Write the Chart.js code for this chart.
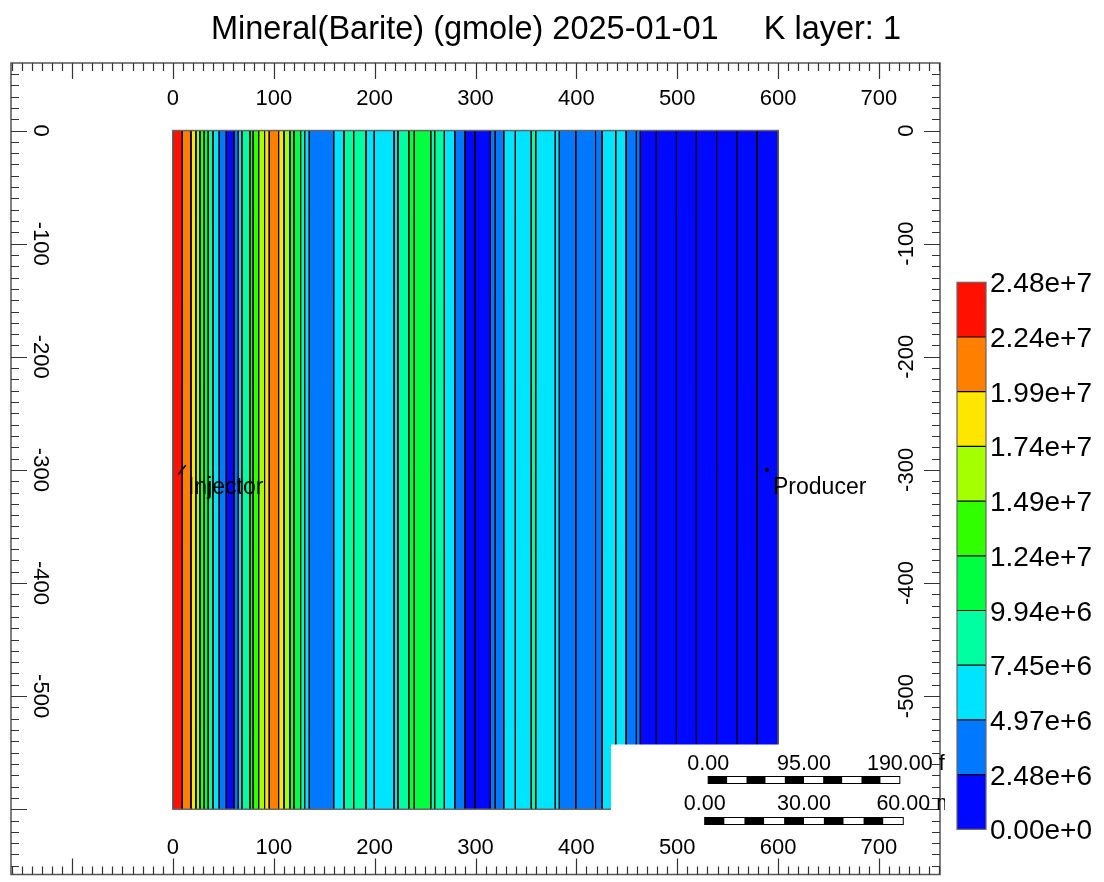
<!doctype html>
<html>
<head>
<meta charset="UTF-8">
<title>Mineral(Barite)</title>
<script src="https://cdn.jsdelivr.net/npm/chart.js@4.4.1/dist/chart.umd.min.js"></script>
<style>
  body { margin: 0; background: #fff; }
</style>
</head>
<body>
<canvas id="map" width="1104" height="882"></canvas>
<script>
// band edges along I direction (ft) and the colour class of each band
const cellEdges = [0, 9.2, 17.9, 22.8, 26.8, 31, 35, 39.7, 45.9, 52.9, 60.5, 64.8, 68.4, 76.4, 79.6, 85,
  90.9, 95.5, 104.8, 110.1, 116, 120, 126.6, 130.6, 135.2, 159.4, 169.6, 179.2, 191.4, 199.6, 219.2,
  223.1, 233.8, 239.3, 255.6, 259.5, 269.1, 279.4, 289.6, 299.5, 314.7, 319.6, 328, 339.5, 355.3,
  359.7, 379.1, 383.1, 399.4, 419, 425.5, 439, 449.3, 459.5, 463.4, 479.3, 499.2, 519, 539, 558.9, 579, 600];
const bandClass = [9, 8, 7, 6, 5, 4, 3, 2, 1, 0, 1, 2, 3, 4, 5, 6, 7, 8, 7, 6, 5, 4, 3, 2, 1, 2, 3, 3, 2, 2,
  2, 3, 4, 4, 3, 3, 2, 1, 0, 0, 1, 1, 2, 2, 3, 2, 2, 1, 1, 1, 2, 2, 1, 1, 0, 0, 0, 0, 0, 0, 0];
const gridTop = 0;
const gridBottom = -600;

// colour classes, lowest first
const classColors = ['#0008ff', '#0078ff', '#00e5ff', '#00ffa0', '#00ff40', '#30ff00', '#a4ff00', '#ffe600', '#ff7f00', '#ff1000'];
const classLabels = ['0.00e+0', '2.48e+6', '4.97e+6', '7.45e+6', '9.94e+6', '1.24e+7', '1.49e+7', '1.74e+7', '1.99e+7', '2.24e+7', '2.48e+7'];

const xTicks = [0, 100, 200, 300, 400, 500, 600, 700];
const yTicks = [0, -100, -200, -300, -400, -500];

const wellNames = ['Injector', 'Producer'];
const wellX = [9, 589];
const wellY = [-300, -300];

const titleText = 'Mineral(Barite) (gmole) 2025-01-01     K layer: 1';
const scaleFeet = ['0.00', '95.00', '190.00'];
const scaleMetres = ['0.00', '30.00', '60.00'];

const FONT = '"Liberation Sans", Arial, sans-serif';

var datasets = [];
for (var i = 0; i < bandClass.length; i++) {
  datasets.push({
    data: [
      {x: cellEdges[i], y: gridBottom}, {x: cellEdges[i], y: gridTop},
      {x: cellEdges[i + 1], y: gridTop}, {x: cellEdges[i + 1], y: gridBottom}
    ],
    showLine: true,
    fill: 'shape',
    backgroundColor: classColors[bandClass[i]],
    borderColor: '#000',
    borderWidth: 1,
    pointRadius: 0,
    tension: 0,
    order: 1
  });
}
// wells, drawn on top of the bands
datasets.push({
  data: wellX.map((x, k) => ({x: x, y: wellY[k]})),
  showLine: false,
  order: 0,
  pointStyle: ['line', 'circle'],
  rotation: [-50, 0],
  pointRadius: [6, 1.6],
  borderWidth: [1.5, 1],
  borderColor: '#000',
  backgroundColor: '#000'
});

function tickSide(ctx, from, to, step, place) {
  for (var v = Math.ceil(from / step) * step; v <= to; v += step) {
    var major = Math.round(v) % 100 === 0;
    place(v, major ? 16 : 8);
  }
}

const decor = {
  id: 'decor',
  afterDatasetsDraw(chart) {
    const ctx = chart.ctx;
    const a = chart.chartArea;
    const x = chart.scales.x, y = chart.scales.y;
    ctx.save();

    // outline of grid
    ctx.strokeStyle = '#666';
    ctx.lineWidth = 1.5;
    var gx0 = x.getPixelForValue(cellEdges[0]), gx1 = x.getPixelForValue(cellEdges[cellEdges.length - 1]);
    var gy0 = y.getPixelForValue(gridTop), gy1 = y.getPixelForValue(gridBottom);
    ctx.strokeRect(gx0, gy0, gx1 - gx0, gy1 - gy0);

    // wells
    ctx.fillStyle = '#000';
    ctx.font = '23px ' + FONT;
    ctx.textAlign = 'left';
    ctx.textBaseline = 'alphabetic';
    for (var k = 0; k < wellNames.length; k++) {
      ctx.fillText(wellNames[k], x.getPixelForValue(wellX[k]) + 6, y.getPixelForValue(wellY[k]) + 24);
    }

    // white panel for the scale bar
    var pl = a.right - 329, pt = a.bottom - 130;
    ctx.fillStyle = '#fff';
    ctx.fillRect(pl, pt, a.right + 6 - pl, a.bottom + 2 - pt);

    // frame and ticks
    ctx.strokeStyle = '#555';
    ctx.lineWidth = 1.5;
    ctx.strokeRect(a.left, a.top, a.right - a.left, a.bottom - a.top);
    ctx.lineWidth = 1.2;
    ctx.strokeStyle = '#333';
    ctx.beginPath();
    tickSide(ctx, x.min, x.max, 10, function (v, len) {
      var px = Math.round(x.getPixelForValue(v)) + 0.5;
      ctx.moveTo(px, a.top); ctx.lineTo(px, a.top + len);
      ctx.moveTo(px, a.bottom); ctx.lineTo(px, a.bottom - len);
    });
    tickSide(ctx, y.min, y.max, 10, function (v, len) {
      var py = Math.round(y.getPixelForValue(v)) + 0.5;
      ctx.moveTo(a.left, py); ctx.lineTo(a.left + len, py);
      ctx.moveTo(a.right, py); ctx.lineTo(a.right - len, py);
    });
    ctx.stroke();

    // tick labels
    ctx.fillStyle = '#000';
    ctx.font = '22px ' + FONT;
    ctx.textAlign = 'center';
    xTicks.forEach(function (v) {
      var px = x.getPixelForValue(v);
      ctx.fillText(String(v), px, a.top + 42);
      ctx.fillText(String(v), px, a.bottom - 21);
    });
    yTicks.forEach(function (v) {
      var py = y.getPixelForValue(v);
      ctx.save();
      ctx.translate(a.left + 23, py);
      ctx.rotate(Math.PI / 2);
      ctx.fillText(String(v), 0, 0);
      ctx.restore();
      ctx.save();
      ctx.translate(a.right - 27, py);
      ctx.rotate(-Math.PI / 2);
      ctx.fillText(String(v), 0, 0);
      ctx.restore();
    });

    // scale bars (lengths through the x scale)
    ctx.save();
    ctx.beginPath();
    ctx.rect(pl, pt, a.right + 5 - pl, a.bottom - pt);
    ctx.clip();
    var mid = a.right - 136;
    var rows = [
      {labels: scaleFeet, unit: 'feet', len: 190, base: pt + 25, bar: pt + 32},
      {labels: scaleMetres, unit: 'm', len: 60 * 3.28084, base: pt + 65, bar: pt + 73}
    ];
    ctx.font = '21.5px ' + FONT;
    rows.forEach(function (r) {
      var w = x.getPixelForValue(r.len) - x.getPixelForValue(0);
      var b0 = mid - w / 2;
      for (var s = 0; s < 10; s++) {
        ctx.fillStyle = s % 2 === 0 ? '#000' : '#fff';
        ctx.fillRect(b0 + s * w / 10, r.bar, w / 10, 7);
      }
      ctx.strokeStyle = '#000';
      ctx.lineWidth = 1;
      ctx.strokeRect(b0, r.bar, w, 7);
      ctx.fillStyle = '#000';
      ctx.textAlign = 'center';
      ctx.fillText(r.labels[0], b0, r.base);
      ctx.fillText(r.labels[1], b0 + w / 2, r.base);
      ctx.fillText(r.labels[2], b0 + w, r.base);
      var tw = ctx.measureText(r.labels[2]).width;
      ctx.textAlign = 'left';
      ctx.fillText(' ' + r.unit, b0 + w + tw / 2, r.base);
    });
    ctx.restore();

    // colour bar
    var cbL = 957, cbW = 29, cbT = 282.3, cbH = 54.7;
    var n = classColors.length;
    for (var c = 0; c < n; c++) {
      ctx.fillStyle = classColors[n - 1 - c];
      ctx.fillRect(cbL, cbT + c * cbH, cbW, cbH);
    }
    ctx.strokeStyle = '#000';
    ctx.lineWidth = 1.2;
    ctx.beginPath();
    for (var c2 = 1; c2 < n; c2++) {
      ctx.moveTo(cbL, cbT + c2 * cbH);
      ctx.lineTo(cbL + cbW, cbT + c2 * cbH);
    }
    ctx.stroke();
    ctx.strokeStyle = '#666';
    ctx.strokeRect(cbL, cbT, cbW, cbH * n);
    ctx.fillStyle = '#000';
    ctx.font = '28px ' + FONT;
    ctx.textAlign = 'left';
    for (var l = 0; l < classLabels.length; l++) {
      ctx.fillText(classLabels[classLabels.length - 1 - l], cbL + 33, cbT + l * cbH + 10);
    }

    // title
    ctx.font = '32.5px ' + FONT;
    ctx.textAlign = 'center';
    ctx.fillText(titleText, 556, 39);

    ctx.restore();
  }
};

new Chart(document.getElementById('map'), {
  type: 'scatter',
  data: {datasets: datasets},
  options: {
    responsive: false,
    devicePixelRatio: 1,
    animation: false,
    layout: {padding: {left: 11, top: 63, right: 164, bottom: 2}},
    scales: {
      x: {type: 'linear', min: -160.5, max: 760.5, display: false},
      y: {type: 'linear', min: -657.7, max: 59.7, display: false}
    },
    plugins: {legend: {display: false}, tooltip: {enabled: false}}
  },
  plugins: [decor]
});
</script>
</body>
</html>
